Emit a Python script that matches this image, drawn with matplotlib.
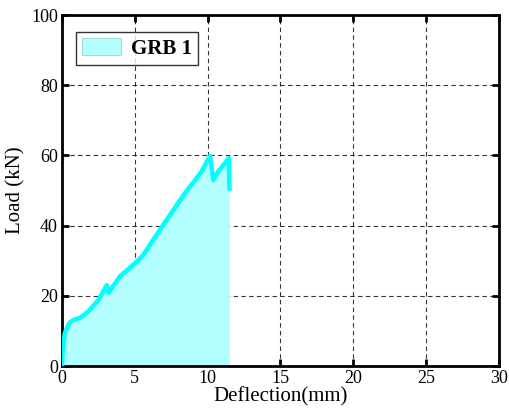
import matplotlib
matplotlib.use("Agg")
import matplotlib.pyplot as plt

deflection = [0.0, 0.05, 0.2, 0.5, 0.78, 1.24, 1.8, 2.5, 3.07, 3.2, 4.0, 5.0, 5.58, 6.84, 8.44, 9.59, 10.16, 10.4, 10.73, 11.46, 11.5]
load = [0.0, 5.0, 9.4, 12.2, 13.1, 13.7, 15.5, 18.8, 23.0, 20.9, 25.6, 29.2, 31.6, 39.5, 49.2, 55.4, 59.8, 53.0, 55.4, 59.2, 50.6]

plt.rcParams['font.family'] = ['Liberation Serif', 'DejaVu Serif']

fig = plt.figure(figsize=(5.09, 4.17), dpi=100)
ax = fig.add_axes([0.1218, 0.1223, 0.8582, 0.8417])

ax.fill_between(deflection, 0, load, color='#b3ffff', linewidth=0, label='GRB 1', zorder=2)
ax.plot(deflection, load, color='#00ffff', linewidth=3.3, solid_joinstyle='round', zorder=3)

ax.set_xlim(0, 30)
ax.set_ylim(0, 100)
ax.set_xticks(range(0, 31, 5))
ax.set_yticks(range(0, 101, 20))
ax.grid(True, color='black', linestyle=(0, (4, 3)), linewidth=0.8, alpha=0.8, zorder=1)
ax.set_axisbelow(True)
ax.tick_params(direction='in', length=5, width=2, labelsize=13, top=True, right=True, pad=3)
for s in ax.spines.values():
    s.set_linewidth(2)
ax.set_xlabel('Deflection(mm)', fontsize=15, labelpad=0)
ax.set_ylabel('Load (kN)', fontsize=15, labelpad=4)

leg = ax.legend(loc='upper left', prop={'weight': 'bold', 'size': 15}, frameon=True,
                fancybox=False, edgecolor='black', handlelength=1.85, handleheight=0.9,
                handletextpad=0.5, borderpad=0.3, borderaxespad=0.0,
                bbox_to_anchor=(0.032, 0.952))
leg.get_frame().set_linewidth(1.0)
leg.legend_handles[0].set_edgecolor('#88cccc')
leg.legend_handles[0].set_linewidth(0.5)

fig.savefig('out.png', dpi=100)
